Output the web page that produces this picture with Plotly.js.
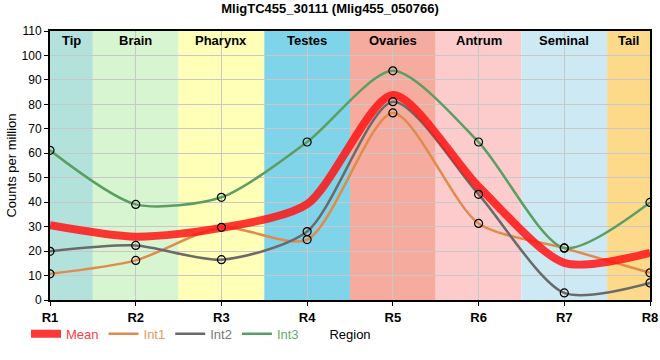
<!DOCTYPE html>
<html>
<head>
<meta charset="utf-8">
<script src="https://cdn.plot.ly/plotly-3.0.1.min.js"></script>
<style>html,body{margin:0;padding:0;background:#fff;}#chart{width:660px;height:360px;}</style>
</head>
<body>
<div id="chart"></div>
<script>
// ---- data ----
var regions = ["R1","R2","R3","R4","R5","R6","R7","R8"];
var meanVals = [30.6, 25.9, 29.5, 39.2, 83.8, 46.4, 15.2, 19.3];
var int1Vals = [10.7, 16.2, 29.7, 24.7, 76.5, 31.3, 21.2, 11.1];
var int2Vals = [19.9, 22.3, 16.5, 28.0, 81.1, 43.2, 2.9, 7.0];
var int3Vals = [61.2, 39.1, 42.0, 64.6, 93.7, 64.6, 21.3, 39.9];
var bandNames = ["Tip","Brain","Pharynx","Testes","Ovaries","Antrum","Seminal","Tail"];
var bandStart = [0, 0.5, 1.5, 2.5, 3.5, 4.5, 5.5, 6.5];
var bandEnd   = [0.5, 1.5, 2.5, 3.5, 4.5, 5.5, 6.5, 7];
var bandColors = ["#b3e2dd","#d7f5d0","#ffffb8","#7fd4ea","#f5ab9d","#fccbcb","#cdeaf4","#fdd98a"];
var yTicks = [0,10,20,30,40,50,60,70,80,90,100,110];

var FONT = "'Liberation Sans Narrow', 'Arial Narrow', 'Liberation Sans', Arial, sans-serif";
var SMOOTH = 0.75;

function lineTrace(name, vals, color, textColor, width){
  return {
    x: regions, y: vals, name: '<span style="color:'+textColor+'">'+name+'</span>',
    legendgroup: name,
    type: 'scatter', mode: 'lines',
    line: {color: color, width: width, shape: 'spline', smoothing: SMOOTH},
    hoverinfo: 'x+y'
  };
}
function markerTrace(name, vals){
  return {
    x: regions, y: vals, name: name, legendgroup: name, showlegend: false,
    type: 'scatter', mode: 'markers',
    marker: {symbol: 'circle-open', size: 8, color: '#000', line: {color: '#000', width: 1.2}},
    hoverinfo: 'x+y'
  };
}

var traces = [
  lineTrace('Int1', int1Vals, '#e08b4c', '#e89a5e', 2.5),
  lineTrace('Int2', int2Vals, '#6a6a6a', '#777777', 2.5),
  lineTrace('Int3', int3Vals, '#5a9e62', '#66aa70', 2.5),
  lineTrace('Mean', meanVals, 'rgba(255,20,20,0.85)', '#ff4040', 8),
  markerTrace('Int1', int1Vals),
  markerTrace('Int2', int2Vals),
  markerTrace('Int3', int3Vals)
];
traces[3].legendrank = 1;
traces[0].legendrank = 2;
traces[1].legendrank = 3;
traces[2].legendrank = 4;

var shapes = [], annotations = [];
for (var i = 0; i < bandNames.length; i++) {
  shapes.push({type:'rect', xref:'x', yref:'paper', x0: bandStart[i], x1: bandEnd[i], y0: 0, y1: 1,
    fillcolor: bandColors[i], line: {width: 0}, layer: 'below'});
  annotations.push({xref:'x', yref:'paper', x: (bandStart[i]+bandEnd[i])/2, y: 1, yanchor:'top', yshift: 0,
    text: '<b>'+bandNames[i]+'</b>', showarrow: false, font: {family: FONT, size: 13, color: '#000'}});
}

var layout = {
  width: 660, height: 360,
  margin: {l: 50, r: 10, t: 31, b: 60},
  paper_bgcolor: '#fff', plot_bgcolor: '#fff',
  font: {family: FONT, size: 12, color: '#000'},
  title: {text: '<b>MligTC455_30111 (Mlig455_050766)</b>', x: 0.5, xanchor: 'center', y: 0.99, yanchor: 'top',
    font: {family: FONT, size: 13, color: '#000'}},
  xaxis: {
    type: 'category', range: [0, 7], tickvals: regions, ticktext: regions.map(function(r){return '<b>'+r+'</b>';}),
    showgrid: true, gridcolor: '#c8c8c8', gridwidth: 1,
    showline: true, linecolor: '#000', linewidth: 2, mirror: true,
    ticks: 'outside', ticklen: 4, tickcolor: '#000',
    tickfont: {family: FONT, size: 13, color: '#000'},
    title: {text: 'Region', standoff: 6, font: {family: FONT, size: 13, color: '#000'}},
    zeroline: false, fixedrange: true
  },
  yaxis: {
    range: [0, 110], tickvals: yTicks,
    showgrid: true, gridcolor: '#c8c8c8', gridwidth: 1,
    showline: true, linecolor: '#000', linewidth: 2, mirror: true,
    ticks: 'outside', ticklen: 4, tickcolor: '#000',
    tickfont: {family: FONT, size: 12, color: '#000'},
    title: {text: 'Counts per million', standoff: 2, font: {family: FONT, size: 13, color: '#000'}},
    zeroline: false, fixedrange: true
  },
  legend: {orientation: 'h', x: -0.04, xanchor: 'left', y: -0.07, yanchor: 'top',
    font: {family: FONT, size: 13}, bgcolor: 'rgba(0,0,0,0)', itemwidth: 30, tracegroupgap: 0,
    traceorder: 'normal'},
  showlegend: true,
  shapes: shapes,
  annotations: annotations
};

Plotly.newPlot('chart', traces, layout, {displayModeBar: false, staticPlot: true});
</script>
</body>
</html>
